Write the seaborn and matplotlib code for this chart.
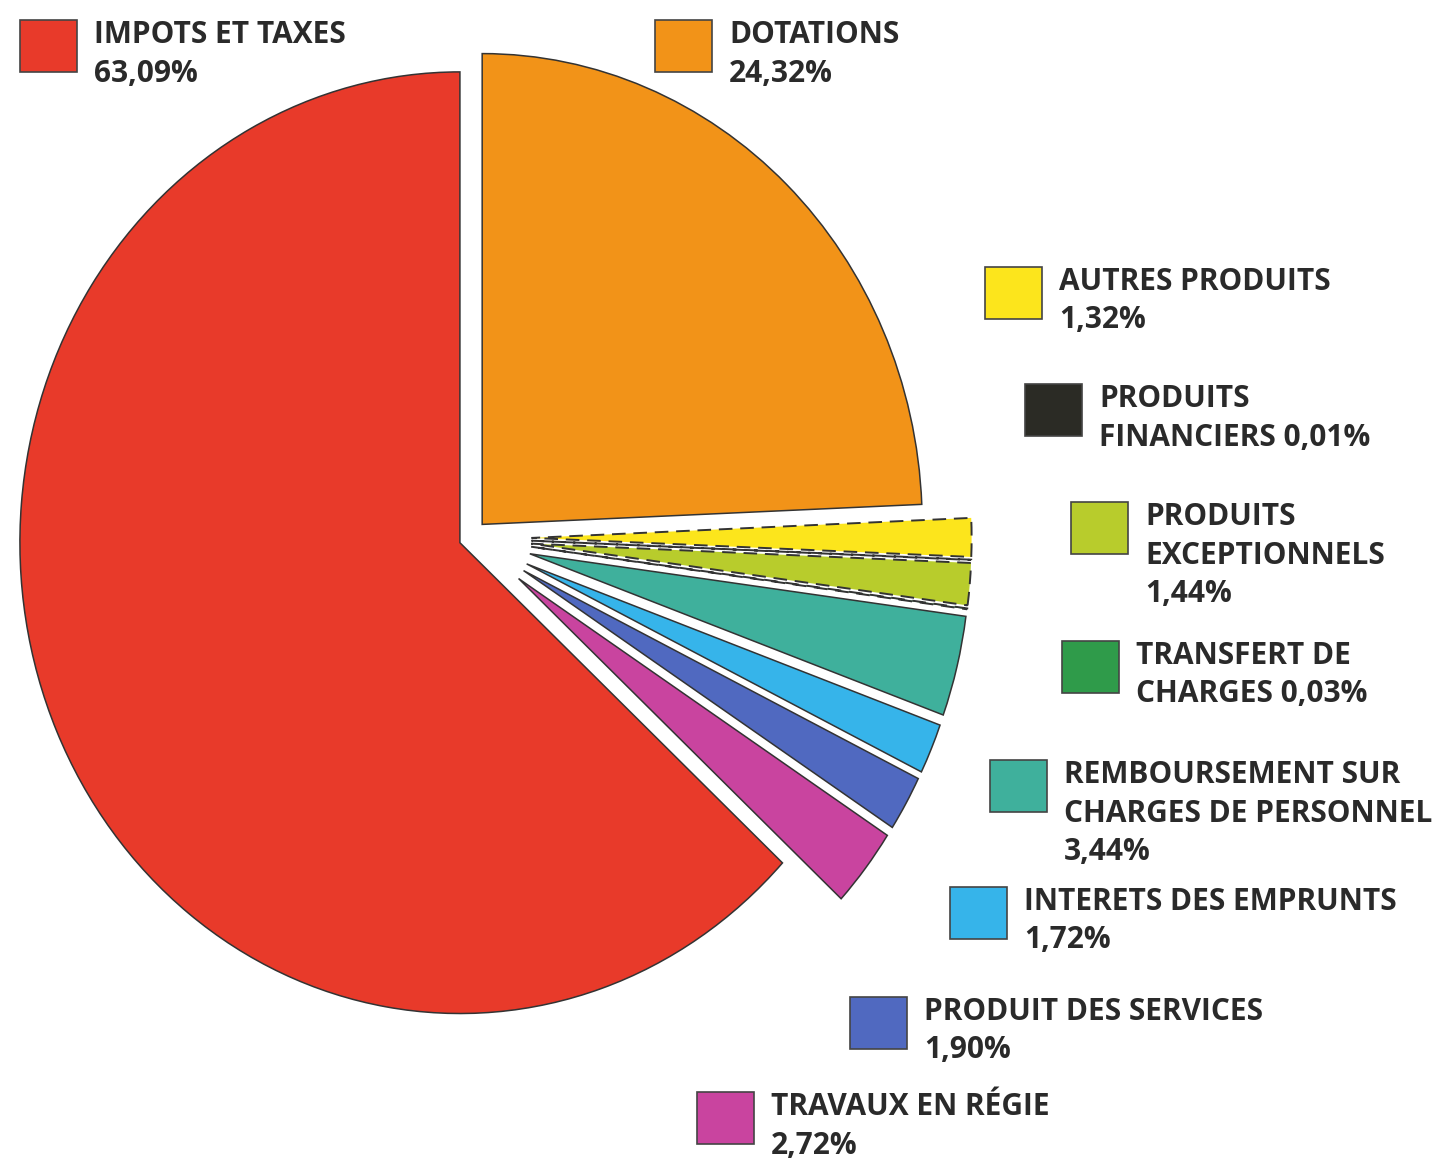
import seaborn as sns
import numpy as np
import matplotlib.pyplot as plt
from matplotlib.patches import Rectangle

sns.set_theme(style="white")
plt.rcParams['font.family'] = ['Open Sans', 'DejaVu Sans']

# donnees (ordre de la legende)
categories = ["IMPOTS ET TAXES", "DOTATIONS", "AUTRES PRODUITS", "PRODUITS FINANCIERS",
              "PRODUITS EXCEPTIONNELS", "TRANSFERT DE CHARGES",
              "REMBOURSEMENT SUR CHARGES DE PERSONNEL", "INTERETS DES EMPRUNTS",
              "PRODUIT DES SERVICES", "TRAVAUX EN RÉGIE"]
values = [63.09, 24.32, 1.32, 0.01, 1.44, 0.03, 3.44, 1.72, 1.90, 2.72]
colors = ["#e83a2a", "#f29318", "#fce51c", "#2b2b25", "#b8cc2c",
          "#2f9b4a", "#3fb09c", "#36b4ea", "#5069c0", "#c9449f"]
label_tpl = ["IMPOTS ET TAXES\n{}", "DOTATIONS\n{}", "AUTRES PRODUITS\n{}",
             "PRODUITS\nFINANCIERS {}", "PRODUITS\nEXCEPTIONNELS\n{}",
             "TRANSFERT DE\nCHARGES {}", "REMBOURSEMENT SUR\nCHARGES DE PERSONNEL\n{}",
             "INTERETS DES EMPRUNTS\n{}", "PRODUIT DES SERVICES\n{}", "TRAVAUX EN RÉGIE\n{}"]
explode = [0.025, 0.04, 0.14, 0.14, 0.14, 0.14, 0.14, 0.14, 0.14, 0.14]
dashed = [False, False, True, True, True, True, False, False, False, False]

# position des cases de legende (x, haut) en pixels
box_pos = [(20, 20), (655, 20), (985, 267), (1025, 384), (1071, 502),
           (1062, 641), (990, 760), (950, 887), (850, 997), (697, 1092)]

W, H = 1448, 1160
R = 440          # rayon (unites x)
k = 1.07         # le scan est un peu etire verticalement
cx, cy = 470, 538

fig = plt.figure(figsize=(W / 100, H / 100), dpi=100)
ax = fig.add_axes([0, 0, 1, 1])

# le camembert commence en haut avec DOTATIONS, sens horaire, IMPOTS en dernier
order = list(range(1, len(values))) + [0]
wedges, _ = ax.pie([values[i] for i in order],
                   colors=[colors[i] for i in order],
                   explode=[explode[i] * R for i in order],
                   startangle=90, counterclock=False,
                   center=(cx, (H - cy) / k), radius=R,
                   wedgeprops=dict(edgecolor="#333333", linewidth=1.1))
for w, i in zip(wedges, order):
    if dashed[i]:
        w.set_linestyle((0, (7, 4)))
        w.set_linewidth(1.4)

ax.set_xlim(0, W)
ax.set_ylim(0, H / k)
ax.set_aspect("auto")
ax.axis("off")

# legende en coordonnees pixels
lg = fig.add_axes([0, 0, 1, 1])
lg.set_xlim(0, W)
lg.set_ylim(H, 0)
lg.axis("off")
lg.patch.set_alpha(0)

bw, bh = 57, 52
for i, (bx, by) in enumerate(box_pos):
    lg.add_patch(Rectangle((bx, by), bw, bh, facecolor=colors[i],
                           edgecolor="#444444", linewidth=1.2))
    pct = f"{values[i]:.2f}%".replace(".", ",")
    lines = label_tpl[i].format(pct).split("\n")
    for j, line in enumerate(lines):
        lg.text(bx + bw + 17, by + 23 + 38.5 * j, line, ha="left", va="baseline",
                fontsize=21.5, fontweight="bold", color="#2a2a2a")

fig.savefig("out.png", dpi=100, facecolor="white")
